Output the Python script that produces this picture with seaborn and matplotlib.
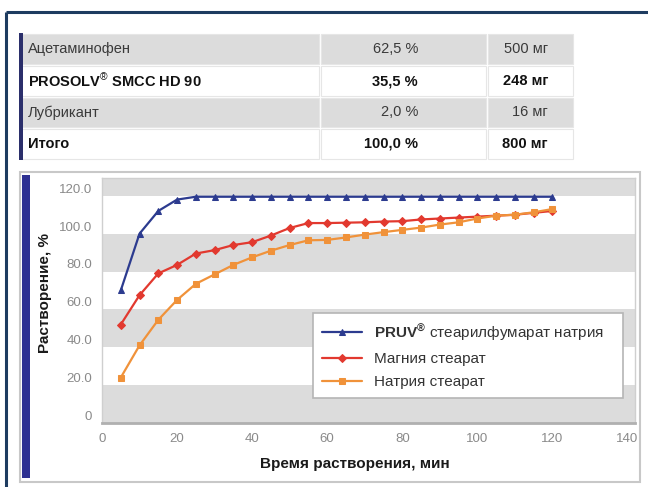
import matplotlib
matplotlib.use("Agg")
import matplotlib.pyplot as plt
from matplotlib.patches import Rectangle
import seaborn as sns
import pandas as pd

# ---------------- data ----------------
time_min = [5, 10, 15, 20, 25, 30, 35, 40, 45, 50, 55, 60,
            65, 70, 75, 80, 85, 90, 95, 100, 105, 110, 115, 120]
pruv = [66, 96, 108, 114, 115.5, 115.5, 115.5, 115.5, 115.5, 115.5, 115.5, 115.5,
        115.5, 115.5, 115.5, 115.5, 115.5, 115.5, 115.5, 115.5, 115.5, 115.5, 115.5, 115.5]
mg_stearate = [48, 63.5, 75, 79.5, 85.5, 87.3, 90, 91.5, 95, 99, 101.6, 101.6,
               101.8, 102, 102.4, 102.6, 103.5, 104, 104.5, 105, 105.5, 106, 107, 108]
na_stearate = [20, 37, 50.5, 61, 69.5, 74.5, 79.5, 83.5, 87, 90, 92.5, 92.7,
               94, 95.5, 96.8, 98, 99.2, 100.8, 102, 104, 105.5, 106, 107.3, 109]

series_labels = ["$\\mathbf{PRUV^{®}}$ стеарилфумарат натрия",
                 "Магния стеарат", "Натрия стеарат"]
series_colors = ["#2c3b8f", "#e2392f", "#f0923a"]
series_markers = ["^", "D", "s"]

x_ticks = [0, 20, 40, 60, 80, 100, 120, 140]
y_ticks = [0, 20, 40, 60, 80, 100, 120]
y_tick_labels = ["0", "20.0", "40.0", "60.0", "80.0", "100.0", "120.0"]

table_names = ["Ацетаминофен", "PROSOLV$^{®}$ SMCC HD 90", "Лубрикант", "Итого"]
table_pct = ["62,5 %", "35,5 %", "2,0 %", "100,0 %"]
table_mg = ["500 мг", "248 мг", "16 мг", "800 мг"]
table_bold = [False, True, False, True]

# ---------------- style ----------------
sns.set_theme(style="white")
plt.rcParams["font.family"] = ["Liberation Sans", "DejaVu Sans"]
plt.rcParams["mathtext.fontset"] = "custom"
plt.rcParams["mathtext.rm"] = "Liberation Sans"
plt.rcParams["mathtext.bf"] = "Liberation Sans:bold"
plt.rcParams["mathtext.it"] = "Liberation Sans:italic"

W, H = 648, 487
fig = plt.figure(figsize=(W / 100, H / 100), dpi=100)
fig.patch.set_facecolor("white")

# overlay in pixel coordinates for frames and table
ov = fig.add_axes([0, 0, 1, 1], zorder=0)
ov.set_xlim(0, W)
ov.set_ylim(H, 0)
ov.axis("off")

navy = "#1e3c60"
ov.plot([6, W], [12, 12], color=navy, lw=2.2, solid_capstyle="butt")
ov.plot([6, 6], [12, H], color=navy, lw=2.2, solid_capstyle="butt")

# table
row_edges = [33, 65, 97, 128, 160]
col_edges = [20, 320, 487, 574]
for i in range(4):
    y0, y1 = row_edges[i], row_edges[i + 1]
    fill = "#dcdcdc" if i % 2 == 0 else "white"
    for j in range(3):
        x0, x1 = col_edges[j], col_edges[j + 1]
        ov.add_patch(Rectangle((x0 + 1, y0 + 1), x1 - x0 - 2, y1 - y0 - 2,
                               facecolor=fill, edgecolor="#e6e6e6", lw=0.8))
ov.add_patch(Rectangle((19, 33), 3.5, 127, facecolor="#2b2f6b", edgecolor="none"))
for i in range(4):
    yc = (row_edges[i] + row_edges[i + 1]) / 2
    wt = "bold" if table_bold[i] else "normal"
    col = "#111111" if table_bold[i] else "#3a3a3a"
    ov.text(28, yc, table_names[i], fontsize=10.5, fontweight=wt, color=col,
            ha="left", va="center")
    ov.text(418, yc, table_pct[i], fontsize=10.5, fontweight=wt, color=col,
            ha="right", va="center")
    ov.text(548, yc, table_mg[i], fontsize=10.5, fontweight=wt, color=col,
            ha="right", va="center")

# chart panel
ov.add_patch(Rectangle((20, 172), 620, 310, facecolor="white", edgecolor="#c8c8c8", lw=1.5))
ov.add_patch(Rectangle((22, 175), 8, 303, facecolor="#2e3192", edgecolor="none"))

# ---------------- main chart ----------------
ax = fig.add_axes([102 / W, 1 - 423 / H, 533 / W, 245 / H], zorder=2)
ax.set_facecolor("white")
ymin, ymax = -4, 125.4
for lo in [-4, 36, 76, 116]:
    ax.axhspan(lo, min(lo + 20, ymax), color="#dcdcdc", lw=0, zorder=0)

df = pd.DataFrame({
    "t": time_min * 3,
    "v": pruv + mg_stearate + na_stearate,
    "s": [series_labels[0]] * len(time_min) + [series_labels[1]] * len(time_min)
         + [series_labels[2]] * len(time_min),
})
for lab, colr, mk in zip(series_labels, series_colors, series_markers):
    sub = df[df["s"] == lab]
    sns.lineplot(data=sub, x="t", y="v", ax=ax, color=colr, marker=mk,
                 markersize=5 if mk != "D" else 4.5, markeredgecolor=colr,
                 linewidth=1.6, label=lab, zorder=3)

ax.set_xlim(0, 142)
ax.set_ylim(ymin, ymax)
ax.set_xticks(x_ticks)
ax.set_xticklabels([str(v) for v in x_ticks])
ax.set_yticks(y_ticks)
ax.set_yticklabels(y_tick_labels)
ax.tick_params(axis="both", length=0, labelsize=9.5, labelcolor="#8a8a8a", pad=7)

for side in ["top", "right", "left"]:
    ax.spines[side].set_color("#cfcfcf")
    ax.spines[side].set_linewidth(1.0)
ax.spines["bottom"].set_color("#b0b0b0")
ax.spines["bottom"].set_linewidth(2.0)

ax.set_xlabel("Время растворения, мин", fontsize=11, fontweight="bold", color="#1a1a1a")
ax.set_ylabel("Растворение, %", fontsize=11, fontweight="bold", color="#1a1a1a")
ax.xaxis.set_label_coords(0.475, -0.14)
ax.yaxis.set_label_coords(-0.094, 0.53)

leg = ax.legend(loc="upper left", bbox_to_anchor=(0.396, 0.102, 0.581, 0.347),
                mode="expand", fontsize=11, frameon=True, fancybox=False,
                framealpha=1, edgecolor="#b5b5b5", handlelength=2.6,
                handletextpad=0.8, labelspacing=0.6, borderpad=0.6,
                borderaxespad=0.0)
leg.get_frame().set_linewidth(1.2)
for t in leg.get_texts():
    t.set_color("#333333")

fig.savefig("out.png", dpi=100)
